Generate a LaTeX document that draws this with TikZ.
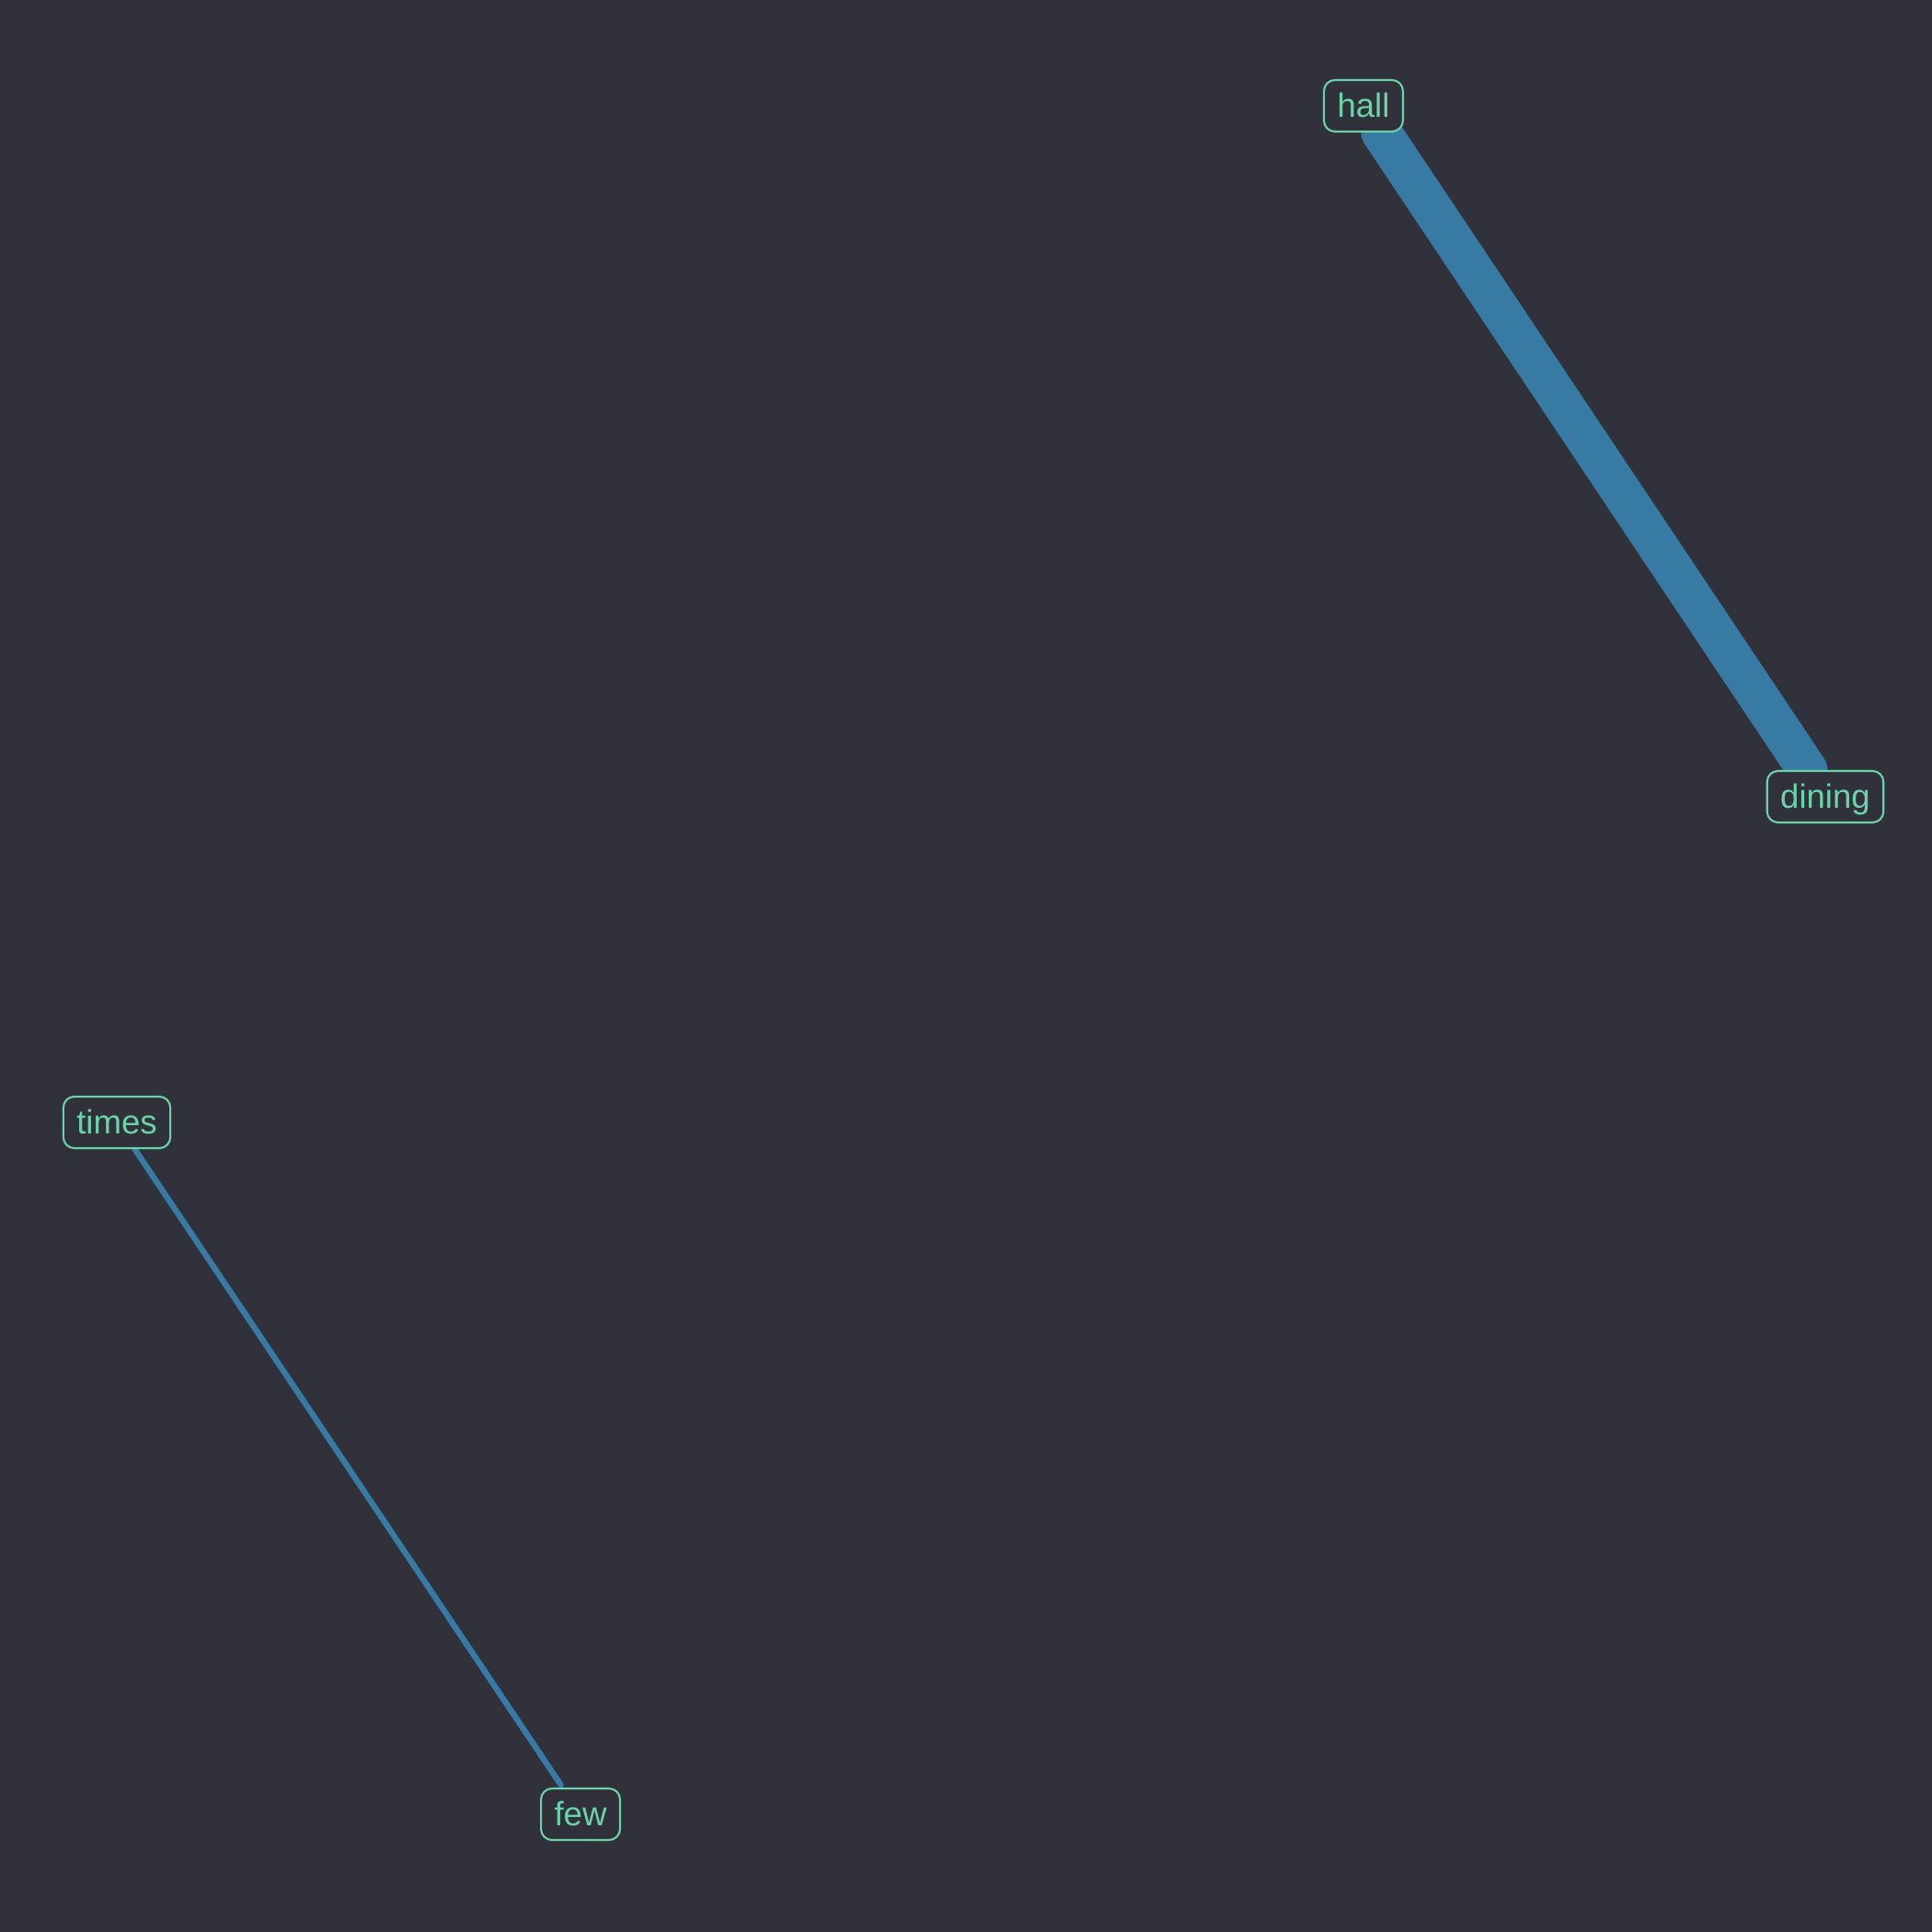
\documentclass[tikz,border=0pt]{standalone}
\usepackage{fontspec}
\setmainfont{Liberation Sans}
\usetikzlibrary{backgrounds}
\definecolor{bgc}{RGB}{49,49,59}
\definecolor{edgec}{RGB}{55,123,164}
\definecolor{nodec}{RGB}{108,210,168}
\tikzset{
  word/.style={draw=nodec, fill=bgc, text=nodec, line width=0.6pt, rounded corners=3.4pt,
    inner xsep=0.145cm, inner ysep=0pt, minimum height=0.56cm, text height=0.26cm, text depth=0pt,
    font=\fontsize{10.4pt}{12pt}\selectfont},
  thickedge/.style={draw=edgec, line width=12.5pt, line cap=round},
  thinedge/.style={draw=edgec, line width=1.8pt, line cap=round, shorten >=1pt}
}
\begin{document}
\begin{tikzpicture}
\useasboundingbox (0,0) rectangle (21,21);
\node[word] (hall) at (14.82,19.85) {hall};
\node[word] (dining) at (19.84,12.34) {dining};
\node[word] (times) at (1.27,8.80) {times};
\node[word] (few) at (6.31,1.28) {few};
\begin{scope}[on background layer]
\fill[bgc] (0,0) rectangle (21,21);
\draw[thickedge] (hall) -- (dining);
\draw[thinedge] (times) -- (few);
\end{scope}
\end{tikzpicture}
\end{document}
